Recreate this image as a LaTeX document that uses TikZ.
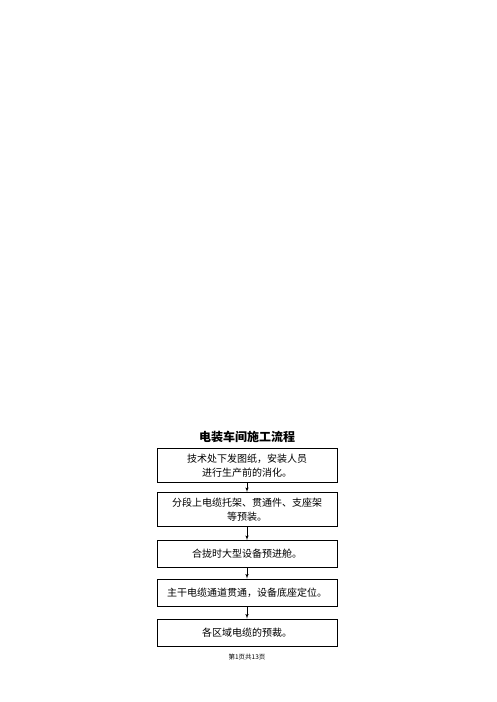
\documentclass[tikz,border=0pt]{standalone}
\usepackage{fontspec}
\setmainfont{Noto Sans CJK SC}
\usetikzlibrary{shapes,arrows}
\tikzstyle{block} = [rectangle, draw, line width=0.8pt, font=\fontsize{10pt}{13.5pt}\selectfont,
    text width=172pt, inner xsep=4pt, text centered, minimum height=34pt]
\tikzstyle{block2} = [rectangle, draw, line width=0.8pt, font=\fontsize{10pt}{13.5pt}\selectfont,
    text width=172pt, inner xsep=4pt, text centered, minimum height=27pt]
\tikzstyle{line} = [draw, line width=0.6pt, -latex']
\begin{document}
\begin{tikzpicture}[x=1pt, y=-1pt, node distance=40pt, auto]
    \useasboundingbox (0,0) rectangle (496,702);
    % Place nodes
    \node [font=\fontsize{12pt}{14pt}\selectfont\bfseries] (title) at (247,437) {电装车间施工流程};
    \node [block, below of=title, node distance=28.5pt] (drawing) {技术处下发图纸，安装人员\\进行生产前的消化。};
    \node [block, below of=drawing, node distance=44pt] (preinst) {分段上电缆托架、贯通件、支座架\\等预装。};
    \node [block2, below of=preinst, node distance=44.5pt] (cabin) {合拢时大型设备预进舱。};
    \node [block2, below of=cabin, node distance=38.5pt] (passage) {主干电缆通道贯通，设备底座定位。};
    \node [block2, below of=passage, node distance=40pt] (cut) {各区域电缆的预裁。};
    \node [font=\fontsize{6.5pt}{8pt}\selectfont, below of=cut, node distance=24.5pt] (footer) {第1页共13页};

    % Draw edges
    \path [line] (drawing) -- (preinst);
    \path [line] (preinst) -- (cabin);
    \path [line] (cabin) -- (passage);
    \path [line] (passage) -- (cut);
\end{tikzpicture}
\end{document}
